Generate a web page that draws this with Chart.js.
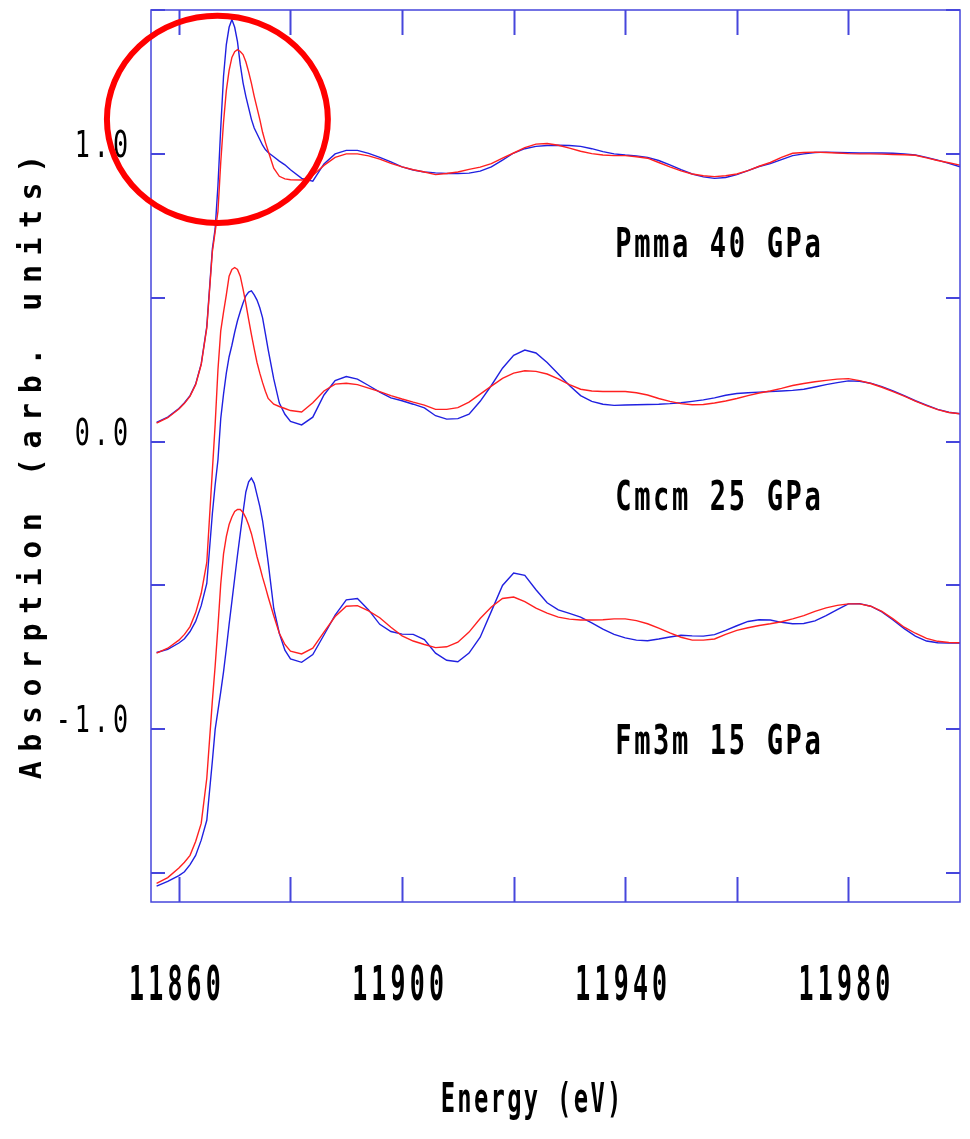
<!DOCTYPE html>
<html>
<head>
<meta charset="utf-8">
<script src="https://cdn.jsdelivr.net/npm/chart.js@4.4.1/dist/chart.umd.min.js"></script>
<style>
  html, body { margin: 0; padding: 0; background: #fff; }
  #wrap { width: 970px; height: 1139px; position: relative; }
</style>
</head>
<body>
<div id="wrap"><canvas id="xanes"></canvas></div>
<script>
// photon energy (eV), shared by all spectra
const energy = [
  11856, 11858, 11860, 11861, 11862, 11863, 11864, 11865,
  11866, 11866.5, 11867, 11867.5, 11868, 11868.5, 11869, 11869.5, 11870, 11870.5, 11871, 11871.5,
  11872, 11872.5, 11873, 11873.5, 11874, 11874.5, 11875, 11875.5, 11876,
  11877, 11878, 11879, 11880,
  11882, 11884, 11886, 11888, 11890, 11892, 11894, 11896, 11898, 11900,
  11902, 11904, 11906, 11908, 11910, 11912, 11914, 11916, 11918, 11920,
  11922, 11924, 11926, 11928, 11930, 11932, 11934, 11936, 11938, 11940,
  11942, 11944, 11946, 11948, 11950, 11952, 11954, 11956, 11958, 11960,
  11962, 11964, 11966, 11968, 11970, 11972, 11974, 11976, 11978, 11980,
  11982, 11984, 11986, 11988, 11990, 11992, 11994, 11996, 11998, 12000
];

// Pmma 40 GPa (shifted +1)
const pmmaBlue = [
  0.067, 0.085, 0.115, 0.135, 0.160, 0.200, 0.270, 0.400,
  0.670, 0.740, 0.890, 1.090, 1.270, 1.380, 1.440, 1.467, 1.440, 1.390, 1.310, 1.247,
  1.200, 1.160, 1.120, 1.090, 1.070, 1.050, 1.030, 1.015, 1.005,
  0.990, 0.975, 0.962, 0.945,
  0.915, 0.905, 0.965, 1.000, 1.012, 1.012, 1.002, 0.988, 0.972, 0.955,
  0.944, 0.937, 0.934, 0.932, 0.932, 0.933, 0.940, 0.955, 0.978, 1.003,
  1.018, 1.026, 1.029, 1.030, 1.029, 1.026, 1.018, 1.008, 1.000, 0.996,
  0.993, 0.988, 0.977, 0.962, 0.945, 0.930, 0.920, 0.915, 0.918, 0.928,
  0.942, 0.956, 0.966, 0.980, 0.994, 1.000, 1.005, 1.006, 1.005, 1.004,
  1.003, 1.003, 1.003, 1.002, 1.000, 0.996, 0.988, 0.978, 0.967, 0.955
];
const pmmaRed = [
  0.064, 0.083, 0.113, 0.133, 0.158, 0.198, 0.268, 0.395,
  0.660, 0.730, 0.800, 0.970, 1.110, 1.220, 1.290, 1.335, 1.355, 1.362, 1.356, 1.345,
  1.320, 1.285, 1.245, 1.200, 1.160, 1.120, 1.075, 1.040, 1.010,
  0.950, 0.922, 0.913, 0.910,
  0.909, 0.925, 0.960, 0.988, 1.000, 1.000, 0.993, 0.982, 0.967, 0.955,
  0.945, 0.937, 0.928, 0.932, 0.937, 0.946, 0.954, 0.966, 0.985, 1.003,
  1.022, 1.034, 1.036, 1.030, 1.020, 1.009, 1.001, 0.996, 0.994, 0.994,
  0.990, 0.985, 0.970, 0.955, 0.941, 0.930, 0.924, 0.921, 0.924, 0.930,
  0.942, 0.957, 0.970, 0.988, 1.002, 1.005, 1.006, 1.005, 1.003, 1.001,
  1.000, 1.000, 0.999, 0.998, 0.997, 0.995, 0.986, 0.977, 0.969, 0.961
];

// Cmcm 25 GPa
const cmcmBlue = [
  -0.733, -0.722, -0.700, -0.685, -0.660, -0.625, -0.570, -0.493,
  -0.250, -0.150, -0.064, 0.080, 0.165, 0.238, 0.295, 0.335, 0.380, 0.420, 0.452, 0.482,
  0.507, 0.520, 0.524, 0.510, 0.492, 0.465, 0.430, 0.375, 0.320,
  0.218, 0.134, 0.095, 0.070,
  0.058, 0.085, 0.162, 0.212, 0.226, 0.217, 0.195, 0.172, 0.152, 0.142,
  0.130, 0.117, 0.090, 0.078, 0.080, 0.095, 0.140, 0.195, 0.255, 0.300,
  0.318, 0.308, 0.275, 0.235, 0.195, 0.160, 0.140, 0.130, 0.126, 0.127,
  0.128, 0.129, 0.130, 0.132, 0.135, 0.140, 0.145, 0.152, 0.161, 0.167,
  0.170, 0.172, 0.174, 0.176, 0.178, 0.182, 0.190, 0.198, 0.205, 0.211,
  0.210, 0.203, 0.191, 0.176, 0.160, 0.142, 0.127, 0.112, 0.102, 0.097
];
const cmcmRed = [
  -0.735, -0.718, -0.690, -0.670, -0.643, -0.595, -0.527, -0.420,
  -0.100, 0.060, 0.250, 0.385, 0.450, 0.510, 0.575, 0.598, 0.605, 0.598, 0.575, 0.530,
  0.480, 0.425, 0.372, 0.322, 0.275, 0.238, 0.205, 0.175, 0.150,
  0.130, 0.122, 0.115, 0.108,
  0.103, 0.135, 0.176, 0.200, 0.203, 0.198, 0.186, 0.174, 0.160, 0.148,
  0.137, 0.127, 0.112, 0.112, 0.118, 0.137, 0.165, 0.193, 0.220, 0.238,
  0.246, 0.244, 0.235, 0.218, 0.198, 0.182, 0.176, 0.174, 0.174, 0.174,
  0.170, 0.162, 0.150, 0.140, 0.132, 0.128, 0.129, 0.134, 0.141, 0.150,
  0.160, 0.169, 0.176, 0.185, 0.195, 0.202, 0.208, 0.213, 0.217, 0.219,
  0.212, 0.202, 0.189, 0.174, 0.158, 0.141, 0.125, 0.111, 0.101, 0.097
];

// Fm3m 15 GPa
const fm3mBlue = [
  -1.545, -1.528, -1.508, -1.495, -1.470, -1.438, -1.385, -1.316,
  -1.110, -1.000, -0.935, -0.870, -0.800, -0.720, -0.635, -0.555, -0.475, -0.395, -0.320, -0.245,
  -0.175, -0.140, -0.127, -0.145, -0.185, -0.225, -0.275, -0.345, -0.420,
  -0.580, -0.666, -0.725, -0.755,
  -0.767, -0.740, -0.672, -0.603, -0.550, -0.545, -0.585, -0.635, -0.660, -0.669,
  -0.670, -0.688, -0.735, -0.760, -0.765, -0.735, -0.680, -0.590, -0.500, -0.457,
  -0.465, -0.515, -0.560, -0.585, -0.597, -0.610, -0.630, -0.652, -0.670, -0.682,
  -0.690, -0.692, -0.686, -0.679, -0.673, -0.675, -0.676, -0.671, -0.656, -0.640,
  -0.625, -0.619, -0.620, -0.628, -0.633, -0.632, -0.623, -0.605, -0.584, -0.564,
  -0.563, -0.572, -0.592, -0.620, -0.650, -0.676, -0.693, -0.699, -0.700, -0.700
];
const fm3mRed = [
  -1.535, -1.515, -1.482, -1.462, -1.438, -1.390, -1.327, -1.170,
  -0.900, -0.780, -0.643, -0.495, -0.390, -0.330, -0.288, -0.262, -0.243, -0.236, -0.236, -0.246,
  -0.265, -0.290, -0.320, -0.360, -0.400, -0.435, -0.472, -0.505, -0.540,
  -0.605, -0.666, -0.705, -0.728,
  -0.738, -0.718, -0.662, -0.608, -0.572, -0.570, -0.588, -0.612, -0.645, -0.675,
  -0.693, -0.705, -0.716, -0.713, -0.697, -0.662, -0.615, -0.575, -0.545, -0.540,
  -0.556, -0.579, -0.596, -0.610, -0.617, -0.620, -0.620, -0.619, -0.616, -0.616,
  -0.622, -0.633, -0.648, -0.665, -0.680, -0.690, -0.690, -0.686, -0.670, -0.656,
  -0.647, -0.639, -0.633, -0.626, -0.616, -0.605, -0.590, -0.578, -0.569, -0.564,
  -0.564, -0.572, -0.590, -0.616, -0.645, -0.666, -0.684, -0.694, -0.698, -0.699
];

const xTickValues = [11860, 11880, 11900, 11920, 11940, 11960, 11980];
const xTickLabels = ['11860', '', '11900', '', '11940', '', '11980'];
const yTickValues = [-1.5, -1.0, -0.5, 0.0, 0.5, 1.0, 1.5];
const yTickLabels = ['', '-1.0', '', '0.0', '', '1.0', ''];
const phaseLabels = ['Pmma 40 GPa', 'Cmcm 25 GPa', 'Fm3m 15 GPa'];

const BLUE = '#2020e0';
const RED = '#ff2020';
const FRAME = '#4646dc';
const MONO = "'DejaVu Sans Mono', 'Liberation Mono', monospace";

// where the phase names sit (data units) and the hand-drawn ring
const phaseLabelAt = [[11938.2, 0.642], [11938.2, -0.238], [11938.2, -1.086]];
const ringCenter = [11866.9, 1.12];
const ringRadius = [19.8, 0.36];

function toPoints(values) {
  return energy.map((e, i) => ({ x: e, y: values[i] }));
}

function series(values, color) {
  return {
    data: toPoints(values),
    borderColor: color,
    borderWidth: 1.4,
    pointRadius: 0,
    tension: 0,
    fill: false,
    order: color === RED ? 0 : 1
  };
}

// condensed text: scale horizontally, optional extra letter spacing
function drawText(ctx, text, x, y, font, sx, spacing, align) {
  ctx.save();
  ctx.font = font;
  ctx.letterSpacing = '0px';
  const w = (ctx.measureText(text).width + spacing * (text.length - 1)) * sx;
  let x0 = x;
  if (align === 'center') x0 = x - w / 2;
  if (align === 'right') x0 = x - w;
  ctx.translate(x0, y);
  ctx.scale(sx, 1);
  ctx.letterSpacing = spacing + 'px';
  ctx.textAlign = 'left';
  ctx.textBaseline = 'alphabetic';
  ctx.fillStyle = '#000';
  ctx.fillText(text, 0, 0);
  ctx.restore();
}

const framePlugin = {
  id: 'framePlugin',
  afterDraw(chart) {
    const { ctx, chartArea: a, scales } = chart;
    const xs = scales.x, ys = scales.y;

    // box
    ctx.save();
    ctx.strokeStyle = FRAME;
    ctx.lineWidth = 1.5;
    ctx.strokeRect(a.left, a.top, a.right - a.left, a.bottom - a.top);

    // inward ticks
    ctx.lineWidth = 2;
    ctx.beginPath();
    xTickValues.forEach(v => {
      const px = Math.round(xs.getPixelForValue(v)) + 0.5;
      ctx.moveTo(px, a.top); ctx.lineTo(px, a.top + 25);
      ctx.moveTo(px, a.bottom); ctx.lineTo(px, a.bottom - 25);
    });
    yTickValues.forEach(v => {
      const py = Math.round(ys.getPixelForValue(v));
      ctx.moveTo(a.left, py); ctx.lineTo(a.left + 14, py);
      ctx.moveTo(a.right, py); ctx.lineTo(a.right - 14, py);
    });
    ctx.stroke();
    ctx.restore();

    // tick labels
    xTickValues.forEach((v, i) => {
      if (!xTickLabels[i]) return;
      drawText(ctx, xTickLabels[i], xs.getPixelForValue(v) - 4, a.bottom + 98,
        'bold 48px ' + MONO, 0.52, 8, 'center');
    });
    yTickValues.forEach((v, i) => {
      if (!yTickLabels[i]) return;
      drawText(ctx, yTickLabels[i], a.left - 23, ys.getPixelForValue(v) + 3,
        '38px ' + MONO, 0.66, 6, 'right');
    });

    // axis titles
    drawText(ctx, 'Energy (eV)', 531, 1112, 'bold 41px ' + MONO, 0.58, 4, 'center');
    ctx.save();
    ctx.translate(41, 467);
    ctx.rotate(-Math.PI / 2);
    drawText(ctx, 'Absorption (arb. units)', 0, 0, 'bold 30px ' + MONO, 1, 9.5, 'center');
    ctx.restore();

    // phase names
    phaseLabels.forEach((t, i) => {
      const [ex, ey] = phaseLabelAt[i];
      drawText(ctx, t, xs.getPixelForValue(ex), ys.getPixelForValue(ey),
        'bold 41px ' + MONO, 0.66, 4, 'left');
    });

    // red ring around the Pmma white line
    const cx = xs.getPixelForValue(ringCenter[0]);
    const cy = ys.getPixelForValue(ringCenter[1]);
    const rx = xs.getPixelForValue(ringCenter[0] + ringRadius[0]) - cx;
    const ry = cy - ys.getPixelForValue(ringCenter[1] + ringRadius[1]);
    ctx.save();
    ctx.strokeStyle = '#ff0000';
    ctx.lineWidth = 6;
    ctx.beginPath();
    ctx.ellipse(cx, cy, rx, ry, 0, 0, Math.PI * 2);
    ctx.stroke();
    ctx.restore();
  }
};

new Chart(document.getElementById('xanes'), {
  type: 'line',
  data: {
    datasets: [
      series(pmmaBlue, BLUE), series(pmmaRed, RED),
      series(cmcmBlue, BLUE), series(cmcmRed, RED),
      series(fm3mBlue, BLUE), series(fm3mRed, RED)
    ]
  },
  options: {
    responsive: true,
    maintainAspectRatio: false,
    animation: false,
    layout: { padding: { left: 151, right: 10, top: 10, bottom: 237 } },
    plugins: { legend: { display: false }, tooltip: { enabled: false } },
    scales: {
      x: { type: 'linear', min: 11855, max: 12000, display: false },
      y: { type: 'linear', min: -1.6, max: 1.5, display: false }
    }
  },
  plugins: [framePlugin]
});
</script>
</body>
</html>
